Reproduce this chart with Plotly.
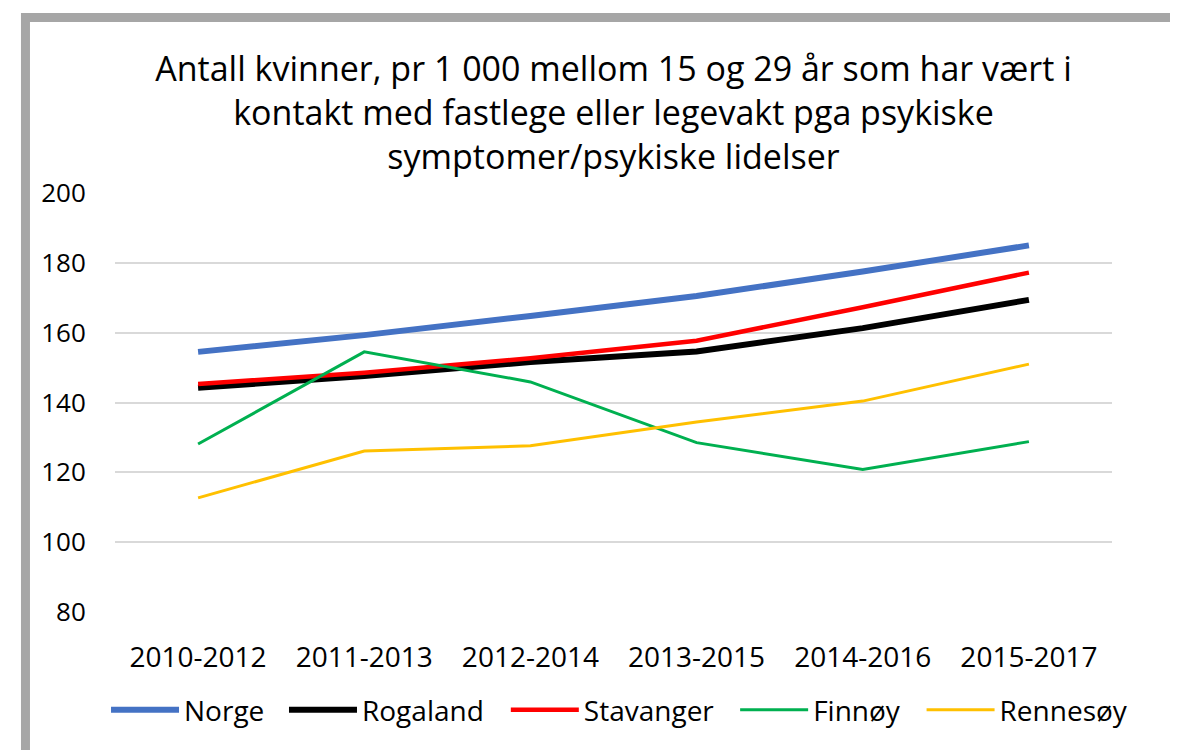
import plotly.graph_objects as go

categories = ["2010-2012", "2011-2013", "2012-2014", "2013-2015", "2014-2016", "2015-2017"]
norge = [154.5, 159.3, 164.8, 170.5, 177.5, 185.0]
rogaland = [144.2, 147.6, 151.6, 154.6, 161.3, 169.4]
stavanger = [145.3, 148.5, 152.7, 157.7, 167.3, 177.2]
finnoy = [128.1, 154.5, 145.9, 128.5, 120.8, 128.8]
rennesoy = [112.7, 126.1, 127.6, 134.4, 140.4, 151.0]
y_ticks = [80, 100, 120, 140, 160, 180, 200]

series = [
    ("Norge", norge, "#4472C4", 6),
    ("Rogaland", rogaland, "#000000", 6),
    ("Stavanger", stavanger, "#FF0000", 4.5),
    ("Finnøy", finnoy, "#00B050", 3),
    ("Rennesøy", rennesoy, "#FFC000", 3),
]
legend_x = [-0.009, 0.1695, 0.392, 0.622, 0.809]

FONT = "Open Sans"

fig = go.Figure()
legend_layout = {}
for i, (name, vals, color, w) in enumerate(series):
    lname = "legend" if i == 0 else f"legend{i + 1}"
    fig.add_trace(go.Scatter(x=categories, y=vals, name=name, mode="lines",
                             line=dict(color=color, width=w), legend=lname))
    legend_layout[lname] = dict(
        orientation="h", x=legend_x[i], xanchor="left", y=-0.234, yanchor="middle",
        font=dict(size=28, family=FONT, color="#000000"),
        bgcolor="rgba(0,0,0,0)", itemwidth=68,
    )

fig.update_layout(
    width=1170, height=742,
    margin=dict(l=107, r=66, t=185, b=138),
    paper_bgcolor="white", plot_bgcolor="white",
    font=dict(family=FONT, color="#000000", size=26),
    title=dict(
        text="Antall kvinner, pr 1 000 mellom 15 og 29 år som har vært i<br>"
             "kontakt med fastlege eller legevakt pga psykiske<br>"
             "symptomer/psykiske lidelser",
        x=0.5, xref="paper", xanchor="center",
        y=1 - 73 / 742, yref="container", yanchor="middle",
        font=dict(family=FONT, size=34, color="#000000"),
    ),
    xaxis=dict(range=[-0.5, 5.5], showgrid=False, zeroline=False, showline=False,
               ticks="outside", ticklen=20, tickcolor="rgba(0,0,0,0)",
               tickfont=dict(size=28)),
    yaxis=dict(range=[80, 200], tickvals=y_ticks, showgrid=True, gridcolor="#d9d9d9",
               gridwidth=1.5, zeroline=False, showline=False,
               ticks="outside", ticklen=23, tickcolor="rgba(0,0,0,0)",
               tickfont=dict(size=26)),
    showlegend=True,
    **legend_layout,
)

fig.add_shape(type="rect", xref="paper", yref="paper",
              x0=-0.0898, y0=1.4189, x1=1.1, y1=-0.4,
              line=dict(color="#a6a6a6", width=9), fillcolor="rgba(0,0,0,0)", layer="above")

fig.write_html("out.html")
